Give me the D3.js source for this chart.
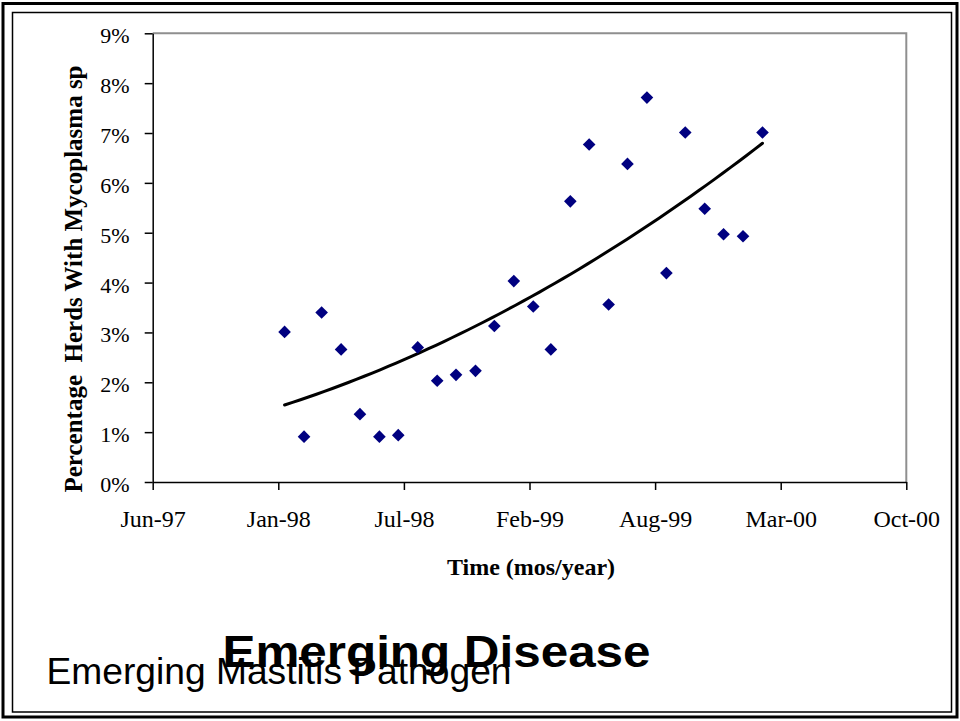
<!DOCTYPE html>
<html>
<head>
<meta charset="utf-8">
<script src="https://cdn.jsdelivr.net/npm/d3@7"></script>
<style>
  html, body { margin: 0; padding: 0; background: #fff; }
  svg { display: block; }
</style>
</head>
<body>
<svg id="chart" width="960" height="721"></svg>
<script>
// Monthly sampling dates and the share of herds positive for Mycoplasma sp (%)
const sampleDates = [
  "1998-01-15", "1998-02-15", "1998-03-15", "1998-04-15", "1998-05-15", "1998-06-15",
  "1998-07-15", "1998-08-15", "1998-09-15", "1998-10-15", "1998-11-15", "1998-12-15",
  "1999-01-15", "1999-02-15", "1999-03-15", "1999-04-15", "1999-05-15", "1999-06-15",
  "1999-07-15", "1999-08-15", "1999-09-15", "1999-10-15", "1999-11-15", "1999-12-15",
  "2000-01-15", "2000-02-15"
];
const herdPercent = [
  3.01, 0.91, 3.40, 2.66, 1.36, 0.91,
  0.94, 2.70, 2.03, 2.15, 2.23, 3.13,
  4.03, 3.52, 2.66, 5.63, 6.77, 3.56,
  6.38, 7.71, 4.19, 7.01, 5.48, 4.97,
  4.93, 7.01
];

// Axis ticks (200-day steps on the date axis)
const xTickDates = ["1997-06-19", "1998-01-05", "1998-07-24", "1999-02-09", "1999-08-28", "2000-03-15", "2000-10-01"];
const xTickLabels = ["Jun-97", "Jan-98", "Jul-98", "Feb-99", "Aug-99", "Mar-00", "Oct-00"];
const yTickValues = [0, 1, 2, 3, 4, 5, 6, 7, 8, 9];
const yTickLabels = ["0%", "1%", "2%", "3%", "4%", "5%", "6%", "7%", "8%", "9%"];

const parse = d3.utcParse("%Y-%m-%d");
const svg = d3.select("#chart");

const plot = { left: 152.7, right: 906.3, top: 33.3, bottom: 482 };

const x = d3.scaleUtc()
  .domain([parse(xTickDates[0]), parse(xTickDates[xTickDates.length - 1])])
  .range([plot.left, plot.right]);
const y = d3.scaleLinear()
  .domain([0, 9])
  .range([plot.bottom, plot.top]);

const serif = "'Liberation Serif', 'Times New Roman', Times, serif";
const sans = "'Liberation Sans', Arial, Helvetica, sans-serif";

// Slide frames
svg.append("rect")
  .attr("x", 3).attr("y", 3.5).attr("width", 954).attr("height", 713.5)
  .attr("fill", "none").attr("stroke", "#000").attr("stroke-width", 3);
svg.append("rect")
  .attr("x", 12.5).attr("y", 12.5).attr("width", 939).attr("height", 699.5)
  .attr("fill", "none").attr("stroke", "#000").attr("stroke-width", 1.5);

// Plot area border (top and right in grey)
svg.append("path")
  .attr("d", `M${plot.left},${plot.top}H${plot.right}V${plot.bottom}`)
  .attr("fill", "none").attr("stroke", "#8f8f8f").attr("stroke-width", 2);

// Y axis
const yAxis = svg.append("g")
  .attr("transform", `translate(${plot.left},0)`)
  .call(d3.axisLeft(y)
    .tickValues(yTickValues)
    .tickFormat((d, i) => yTickLabels[i])
    .tickSize(8)
    .tickSizeOuter(0)
    .tickPadding(15));
yAxis.select(".domain").attr("stroke", "#000").attr("stroke-width", 1.5);
yAxis.selectAll(".tick line").attr("stroke", "#000").attr("stroke-width", 1.5);
yAxis.selectAll(".tick text")
  .attr("dy", "0.43em")
  .attr("fill", "#000")
  .style("font-family", serif)
  .style("font-size", "22px");

// X axis
const xAxis = svg.append("g")
  .attr("transform", `translate(0,${plot.bottom})`)
  .call(d3.axisBottom(x)
    .tickValues(xTickDates.map(parse))
    .tickFormat((d, i) => xTickLabels[i])
    .tickSize(8)
    .tickSizeOuter(0));
xAxis.select(".domain").attr("stroke", "#000").attr("stroke-width", 1.5);
xAxis.selectAll(".tick line").attr("stroke", "#000").attr("stroke-width", 1.5);
xAxis.selectAll(".tick text")
  .attr("y", 45)
  .attr("dy", null)
  .attr("fill", "#000")
  .style("font-family", serif)
  .style("font-size", "24px");

// Axis titles
svg.append("text")
  .attr("transform", "translate(82,279) rotate(-90)")
  .attr("text-anchor", "middle")
  .style("white-space", "pre")
  .style("font-family", serif)
  .style("font-weight", "bold")
  .style("font-size", "25px")
  .text("Percentage  Herds With Mycoplasma sp");

svg.append("text")
  .attr("x", 531).attr("y", 575)
  .attr("text-anchor", "middle")
  .style("font-family", serif)
  .style("font-weight", "bold")
  .style("font-size", "24px")
  .text("Time (mos/year)");

// Second-order polynomial trendline (least squares on the observations)
const points = sampleDates.map((d, i) => ({ date: parse(d), value: herdPercent[i] }));
const t0 = points[0].date.getTime();
const DAY = 864e5;
const ts = points.map(p => (p.date.getTime() - t0) / DAY);
function quadFit(xs, ys) {
  let s0 = xs.length, s1 = 0, s2 = 0, s3 = 0, s4 = 0, b0 = 0, b1 = 0, b2 = 0;
  xs.forEach((xv, i) => {
    const yv = ys[i], x2 = xv * xv;
    s1 += xv; s2 += x2; s3 += x2 * xv; s4 += x2 * x2;
    b0 += yv; b1 += xv * yv; b2 += x2 * yv;
  });
  const A = [[s0, s1, s2, b0], [s1, s2, s3, b1], [s2, s3, s4, b2]];
  for (let c = 0; c < 3; c++) {
    for (let r = c + 1; r < 3; r++) {
      const f = A[r][c] / A[c][c];
      for (let k = c; k < 4; k++) A[r][k] -= f * A[c][k];
    }
  }
  const coef = [0, 0, 0];
  for (let r = 2; r >= 0; r--) {
    let s = A[r][3];
    for (let k = r + 1; k < 3; k++) s -= A[r][k] * coef[k];
    coef[r] = s / A[r][r];
  }
  return t => coef[0] + coef[1] * t + coef[2] * t * t;
}
const trend = quadFit(ts, herdPercent);
const tEnd = ts[ts.length - 1];
const trendPts = d3.range(0, 61).map(k => {
  const t = tEnd * k / 60;
  return { date: new Date(t0 + t * DAY), value: trend(t) };
});
svg.append("path")
  .datum(trendPts)
  .attr("fill", "none")
  .attr("stroke", "#000")
  .attr("stroke-width", 3)
  .attr("stroke-linejoin", "round")
  .attr("stroke-linecap", "round")
  .attr("d", d3.line().x(d => x(d.date)).y(d => y(d.value)));

// Diamond markers
const diamond = d3.symbol().type(d3.symbolSquare).size(80);
svg.append("g")
  .selectAll("path")
  .data(points)
  .join("path")
  .attr("transform", d => `translate(${x(d.date)},${y(d.value)}) rotate(45)`)
  .attr("d", diamond)
  .attr("fill", "#000080");

// Slide captions
svg.append("text")
  .attr("x", 46.5).attr("y", 683.5)
  .attr("textLength", 465)
  .attr("lengthAdjust", "spacingAndGlyphs")
  .style("font-family", sans)
  .style("font-size", "36px")
  .attr("fill", "#000")
  .text("Emerging Mastitis Pathogen");

svg.append("text")
  .attr("x", 222.5).attr("y", 667)
  .attr("textLength", 428)
  .attr("lengthAdjust", "spacingAndGlyphs")
  .style("font-family", sans)
  .style("font-weight", "bold")
  .style("font-size", "44px")
  .attr("fill", "#000")
  .text("Emerging Disease");
</script>
</body>
</html>
